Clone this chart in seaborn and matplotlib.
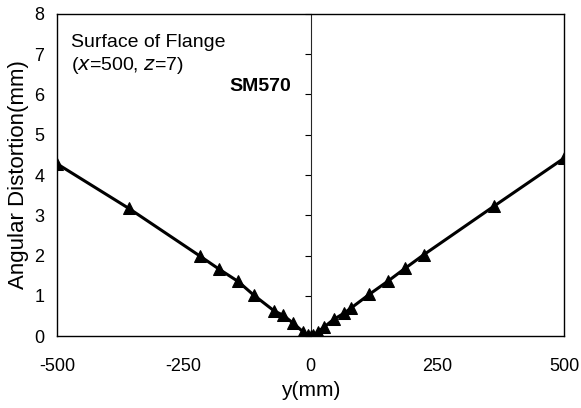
import matplotlib
matplotlib.use("Agg")
import matplotlib.pyplot as plt
import seaborn as sns
import pandas as pd

# Angular distortion along the flange surface (x=500, z=7), SM570 steel
y_pos = [-500, -358, -217, -181, -143, -112, -72, -54, -34, -14, -5, 0,
         5, 14, 26, 46, 66, 80, 116, 153, 187, 223, 362, 500]
distortion = [4.28, 3.17, 1.98, 1.67, 1.36, 1.02, 0.63, 0.52, 0.32, 0.10, 0.03, 0.0,
              0.03, 0.10, 0.22, 0.42, 0.57, 0.70, 1.04, 1.37, 1.69, 2.02, 3.23, 4.42]

x_ticks = [-500, -250, 0, 250, 500]
y_ticks = [0, 1, 2, 3, 4, 5, 6, 7, 8]

sns.set_style("white")
plt.rcParams["font.family"] = ["Liberation Sans", "DejaVu Sans"]
plt.rcParams["text.color"] = "black"
plt.rcParams["axes.labelcolor"] = "black"
plt.rcParams["xtick.color"] = "black"
plt.rcParams["ytick.color"] = "black"

df = pd.DataFrame({"y": y_pos, "dist": distortion})

fig = plt.figure(figsize=(5.81, 4.08), dpi=100)
ax = fig.add_axes([0.098, 0.176, 0.873, 0.790])

sns.lineplot(data=df, x="y", y="dist", ax=ax, color="black", linewidth=2.2,
             marker="^", markersize=8, markeredgecolor="black", sort=False)

ax.set_xlim(-500, 500)
ax.set_ylim(0, 8)
ax.set_xticks(x_ticks)
ax.set_yticks(y_ticks)
ax.set_xticklabels([str(v) for v in x_ticks])
ax.tick_params(axis="x", direction="in", length=4, labelsize=13, pad=16)
ax.tick_params(axis="y", length=0, labelsize=13, pad=9)

for s in ax.spines.values():
    s.set_color("black")
    s.set_linewidth(1.0)

# Centre axis line at y = 0 with inward ticks
center = ax.secondary_yaxis(0.5)
center.set_yticks(y_ticks)
center.set_yticklabels([])
center.tick_params(axis="y", direction="in", length=4, color="black")
center.spines["left"].set_color("black")
center.spines["left"].set_linewidth(1.0)

ax.set_xlabel("y(mm)", fontsize=15, labelpad=4)
ax.set_ylabel("Angular Distortion(mm)", fontsize=16, labelpad=4)

ax.text(0.028, 0.897, "Surface of Flange", transform=ax.transAxes,
        fontsize=14, ha="left", va="baseline")
ax.text(0.028, 0.826, "($x$=500, $z$=7)", transform=ax.transAxes,
        fontsize=14, ha="left", va="baseline")
ax.text(0.462, 0.761, "SM570", transform=ax.transAxes,
        fontsize=14, fontweight="bold", ha="right", va="baseline")

fig.savefig("out.png", dpi=100)
